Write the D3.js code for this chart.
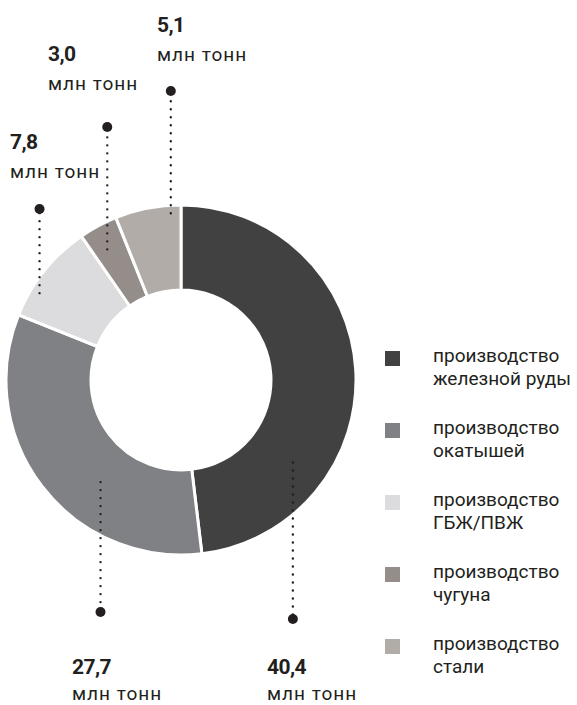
<!DOCTYPE html>
<html>
<head>
<meta charset="utf-8">
<script src="https://cdn.jsdelivr.net/npm/d3@7"></script>
<style>
  body { margin: 0; background: #fff; }
  svg { display: block; }
  .num { font-family: Roboto, sans-serif; font-weight: 700; font-size: 21px; letter-spacing: -0.6px; fill: #231f20; }
  .unit { font-family: Roboto, sans-serif; font-size: 19px; letter-spacing: 1px; fill: #231f20; }
  .leg { font-family: Roboto, sans-serif; font-size: 19px; fill: #231f20; }
</style>
</head>
<body>
<script>
// segments, clockwise from 12 o'clock
const names = [
  ["производство", "железной руды"],
  ["производство", "окатышей"],
  ["производство", "ГБЖ/ПВЖ"],
  ["производство", "чугуна"],
  ["производство", "стали"]
];
const values = [40.4, 27.7, 7.8, 3.0, 5.1];
const valueLabels = ["40,4", "27,7", "7,8", "3,0", "5,1"];
const unitLabel = "млн тонн";
const colors = ["#414141", "#7f8184", "#dcdcde", "#958d89", "#b1aca8"];

const width = 577, height = 705;
const cx = 181, cy = 380, outerR = 175, innerR = 90;

const svg = d3.select("body").append("svg")
    .attr("width", width)
    .attr("height", height);

const g = svg.append("g")
    .attr("transform", "translate(" + cx + "," + cy + ")");

const pie = d3.pie().sort(null).value(d => d);
const arc = d3.arc().innerRadius(innerR).outerRadius(outerR);
const arcs = pie(values);

g.selectAll("path.slice")
    .data(arcs)
  .enter().append("path")
    .attr("class", "slice")
    .attr("d", arc)
    .attr("fill", (d, i) => colors[i])
    .attr("stroke", "#fff")
    .attr("stroke-width", 3)
    .attr("stroke-linejoin", "miter");

// callouts: radius where the dotted line meets the ring, dot y, text spot
const callouts = [
  { r: 139, dotY: 619, tx: 267, ty: 674, uy: 26 },
  { r: 130, dotY: 612, tx: 72, ty: 674, uy: 26 },
  { r: 166, dotY: 209, tx: 10, ty: 149, uy: 29 },
  { r: 150, dotY: 127, tx: 48, ty: 61, uy: 29 },
  { r: 167, dotY: 91, tx: 157, ty: 32, uy: 29 }
];
// angle position inside each slice (fraction of its span)
const frac = [0.73, 0.38, 0.29, 0.41, 0.84];

arcs.forEach((a, i) => {
  const c = callouts[i];
  const ang = a.startAngle + (a.endAngle - a.startAngle) * frac[i];
  const px = cx + c.r * Math.sin(ang);
  const py = cy - c.r * Math.cos(ang);

  svg.append("line")
      .attr("x1", px).attr("y1", py)
      .attr("x2", px).attr("y2", c.dotY)
      .attr("stroke", "#231f20")
      .attr("stroke-width", 2.4)
      .attr("stroke-linecap", "round")
      .attr("stroke-dasharray", "0 8");

  svg.append("circle")
      .attr("cx", px).attr("cy", c.dotY)
      .attr("r", 5)
      .attr("fill", "#231f20");

  svg.append("text")
      .attr("class", "num")
      .attr("x", c.tx).attr("y", c.ty)
      .text(valueLabels[i]);

  svg.append("text")
      .attr("class", "unit")
      .attr("x", c.tx).attr("y", c.ty + c.uy)
      .text(unitLabel);
});

// legend
const legend = svg.append("g")
    .attr("transform", "translate(385,351)");

const item = legend.selectAll("g")
    .data(names)
  .enter().append("g")
    .attr("transform", (d, i) => "translate(0," + (i * 72) + ")");

item.append("rect")
    .attr("width", 15)
    .attr("height", 15)
    .attr("fill", (d, i) => colors[i]);

item.append("text")
    .attr("class", "leg")
    .attr("x", 48)
    .attr("y", 11)
    .text(d => d[0]);

item.append("text")
    .attr("class", "leg")
    .attr("x", 48)
    .attr("y", 34)
    .text(d => d[1]);
</script>
</body>
</html>
